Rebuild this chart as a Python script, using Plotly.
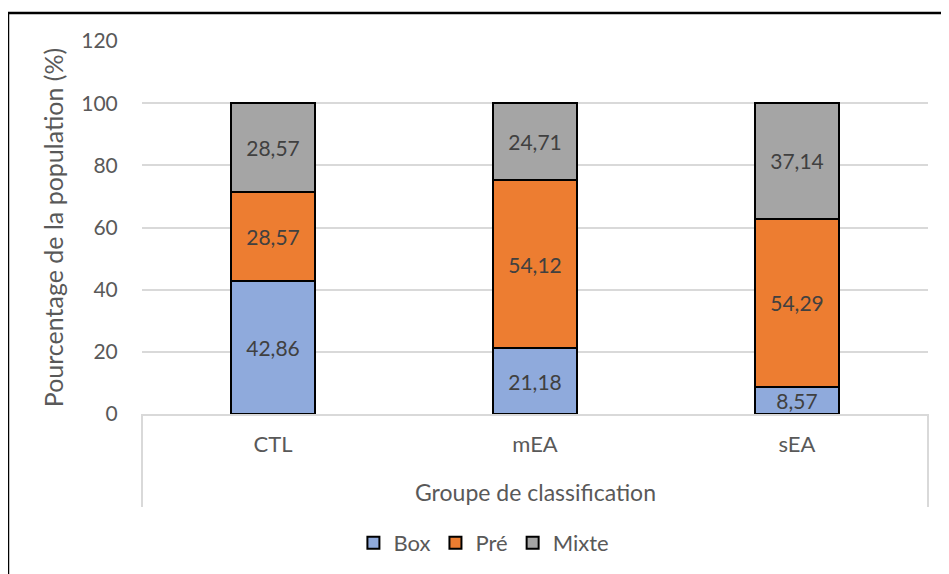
import plotly.graph_objects as go

groupes = ['CTL', 'mEA', 'sEA']
box = [42.86, 21.18, 8.57]
pre = [28.57, 54.12, 54.29]
mixte = [28.57, 24.71, 37.14]

series = [('Box', box, '#8faadc'),
          ('Pré', pre, '#ed7d31'),
          ('Mixte', mixte, '#a5a5a5')]

txt = '#595959'
police = 'Lato'

fig = go.Figure()

for nom, vals, coul in series:
    fig.add_trace(go.Bar(x=groupes, y=vals, name=nom,
                         marker=dict(color=coul, line=dict(color='black', width=2)),
                         width=0.317,
                         texttemplate='%{y:.2f}', textposition='inside',
                         insidetextanchor='middle', constraintext='none',
                         textfont=dict(size=21, color='#404040', family=police)))

# la page ajoute 8 px de marge, d'où les marges décalées
fig.update_layout(
    width=949, height=574,
    barmode='stack',
    separators=', ',
    plot_bgcolor='white', paper_bgcolor='white',
    margin=dict(l=134, r=29, t=33, b=168),
    font=dict(family=police, size=21, color=txt),
    showlegend=True,
    legend=dict(orientation='h', x=0.435, xanchor='center', y=-0.346, yanchor='middle',
                font=dict(size=22, color=txt), itemwidth=30, traceorder='normal'),
)

fig.update_yaxes(range=[0, 120], dtick=20, showgrid=True, gridcolor='#d9d9d9', gridwidth=1.5,
                 zeroline=False, showline=False,
                 ticks='outside', ticklen=19, tickcolor='rgba(0,0,0,0)',
                 tickfont=dict(size=21, color=txt),
                 title=dict(text='Pourcentage de la population (%)', font=dict(size=25, color=txt),
                            standoff=10))
fig.update_xaxes(showline=True, linecolor='#d9d9d9', linewidth=2,
                 ticks='outside', ticklen=10, tickcolor='rgba(0,0,0,0)',
                 tickfont=dict(size=22, color=txt))

fig.add_annotation(text='Groupe de classification', x=0.5, y=-0.21, xref='paper', yref='paper',
                   showarrow=False, yanchor='middle', font=dict(size=23, color=txt))

# cadre du tableau sous l'axe
for xv in [0, 1]:
    fig.add_shape(type='line', xref='paper', yref='paper', x0=xv, x1=xv, y0=0, y1=-0.249,
                  line=dict(color='#d9d9d9', width=2))

# bordure du graphique
fig.add_shape(type='rect', xref='paper', yref='paper', x0=-0.1705, x1=1.1, y0=1.075, y1=-0.6,
              line=dict(color='black', width=2.5), layer='below')

fig.write_html('out.html')
